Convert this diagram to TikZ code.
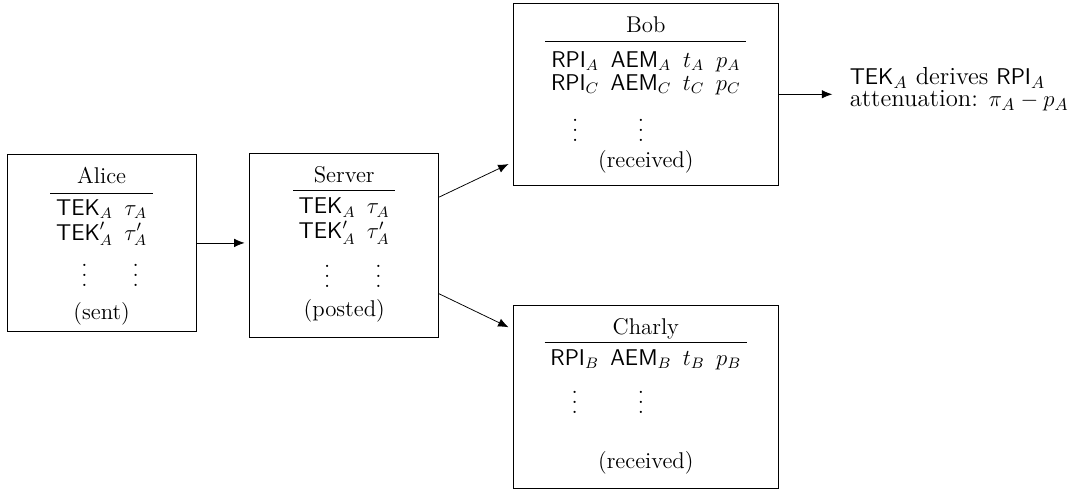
\documentclass[tikz,border=0pt]{standalone}
\usepackage{amsmath}
\usepackage{amssymb}
\usepackage{tikz}
\usetikzlibrary{arrows.meta}
\usetikzlibrary{positioning}
\setlength{\tabcolsep}{3pt}
\newcommand{\coldots}{\vbox{\baselineskip5.3pt\lineskiplimit0pt\hbox{.}\hbox{.}\hbox{.}}}

\begin{document}
\begin{tikzpicture}[every node/.style={font=\fontsize{12}{12}\selectfont},
                    party/.style={draw, inner sep=0pt, anchor=north},
                    flow/.style={-{Latex[length=5.5pt,width=4.5pt]}, shorten >=2.5pt}]
				\useasboundingbox (0,0) rectangle (20.11,-9.111);
				\node[party, minimum width=3.5cm, text height=15.4pt, text depth=77.9pt] (alice) at (1.882,-2.852) {%
					\begin{tabular}[t]{cc}
						\multicolumn{2}{c}{Alice}\\[1.2pt] \hline
						\rule{0pt}{11.4pt}$\mathsf{TEK}_A$ & $\tau_A$\\
						$\mathsf{TEK}'_A$ & $\tau'_A$\\
						\rule{0pt}{21pt}\coldots & \coldots\\[4.5pt]
						\multicolumn{2}{c}{(sent)}
					\end{tabular}};
				\node[party, minimum width=3.5cm, text height=15.1pt, text depth=81.6pt] (server) at (6.374,-2.839) {%
					\begin{tabular}[t]{cc}
						\multicolumn{2}{c}{Server}\\[0.6pt] \hline
						\rule{0pt}{12pt}$\mathsf{TEK}_A$ & $\tau_A$\\
						$\mathsf{TEK}'_A$ & $\tau'_A$\\
						\rule{0pt}{22pt}\coldots & \coldots\\[2.5pt]
						\multicolumn{2}{c}{(posted)}
					\end{tabular}};
				\node[party, minimum width=4.91cm, text height=15.3pt, text depth=80.8pt] (bob) at (11.959,-0.05) {%
					\begin{tabular}[t]{cccc}
						\multicolumn{4}{c}{Bob}\\[1pt] \hline
						\rule{0pt}{13.6pt}$\mathsf{RPI}_A$ & $\mathsf{AEM}_A$ & $t_A$ & $p_A$\\
						$\mathsf{RPI}_C$ & $\mathsf{AEM}_C$ & $t_C$ & $p_C$\\
						\rule{0pt}{23.3pt}\coldots & \coldots & & \\[1.4pt]
						\multicolumn{4}{c}{(received)}
					\end{tabular}};
				\node[party, minimum width=4.91cm, text height=15.6pt, text depth=81pt] (charly) at (11.959,-5.648) {%
					\begin{tabular}[t]{cccc}
						\multicolumn{4}{c}{Charly}\\ \hline
						\rule{0pt}{12pt}$\mathsf{RPI}_B$ & $\mathsf{AEM}_B$ & $t_B$ & $p_B$\\
						\rule{0pt}{21.6pt}\coldots & \coldots & & \\
						& & & \\[4.6pt]
						\multicolumn{4}{c}{(received)}
					\end{tabular}};
				\coordinate[right=0.99cm of bob.east] (tip);
				\node[right=0.2cm of tip, yshift=2.5pt, align=left, font=\fontsize{13}{11.5}\selectfont] (note) {$\mathsf{TEK}_A$ derives $\mathsf{RPI}_A$\\ attenuation: $\pi_A - p_A$};
				\draw[flow] (alice.east) -- (alice.east -| server.west);
				\draw[flow] (server.27) -- (bob.207);
				\draw[flow] (server.333) -- (charly.153);
				\draw[flow, shorten >=0pt] (bob.east) -- (tip);
\end{tikzpicture}
\end{document}
